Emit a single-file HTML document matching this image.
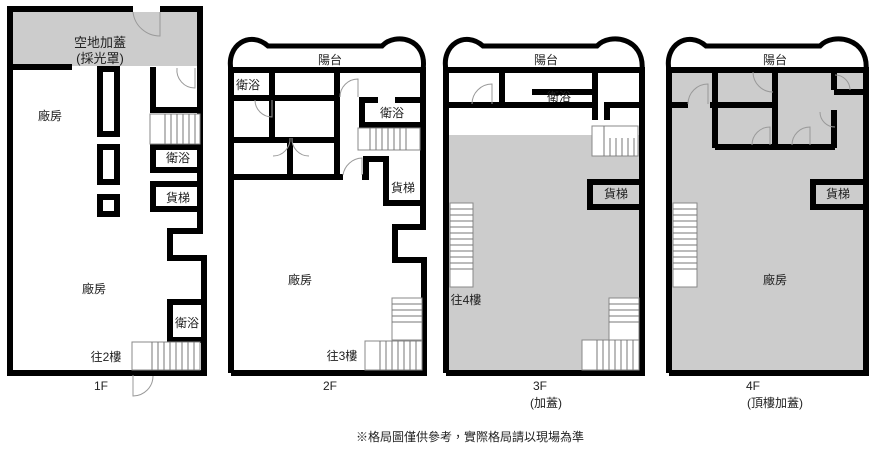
<!DOCTYPE html>
<html><head><meta charset="utf-8"><style>
html,body{margin:0;padding:0;background:#fff;width:888px;height:450px;overflow:hidden}
svg text{font-family:"Liberation Sans","Noto Sans CJK TC",sans-serif;font-size:12px;fill:#222}
</style></head><body>
<svg width="888" height="450" viewBox="0 0 888 450" xmlns="http://www.w3.org/2000/svg">
<g fill="none" stroke="#000" stroke-width="6" stroke-linejoin="miter">
<!-- 1F -->
<rect x="13" y="12" width="184" height="54" fill="#ccc" stroke="none"/>
<polyline points="133,9 10,9 10,373 204,373 204,258 170,258 170,231 200,231 200,9 160,9"/>
<line x1="10" y1="67" x2="72" y2="67"/>
<rect x="100" y="69" width="17" height="65"/>
<rect x="100" y="147" width="17" height="35"/>
<rect x="100" y="197" width="17" height="17"/>
<polyline points="153,67 153,110 200,110"/>
<rect x="153" y="147" width="47" height="23"/>
<rect x="153" y="184" width="47" height="25"/>
<polyline points="204,302 170,302 170,340 204,340"/>
<!-- 2F -->
<polyline points="231,373 231,70 423,70 423,227 395,227 395,260 424,260 424,373 231,373"/>
<path d="M231,70 C226,45 250,30 268,46 L382,46 C395,32 428,38 423,70" stroke-width="5"/>
<line x1="272" y1="70" x2="272" y2="140"/>
<line x1="234" y1="98" x2="336" y2="98"/>
<line x1="234" y1="140" x2="337" y2="140"/>
<line x1="290" y1="140" x2="290" y2="177"/>
<line x1="337" y1="70" x2="337" y2="177"/>
<polyline points="234,177 343,177"/>
<polyline points="362,177 366,177 366,159 386,159 386,203 423,203"/>
<polyline points="378,100 362,100 362,125 423,125"/>
<line x1="395" y1="100" x2="423" y2="100"/>
<!-- 3F -->
<rect x="449" y="135" width="190" height="235" fill="#ccc" stroke="none"/>
<polyline points="446,373 446,70 642,70 642,373 446,373"/>
<path d="M446,70 C441,45 465,30 483,46 L597,46 C610,32 645,38 642,70" stroke-width="5"/>
<line x1="447" y1="105" x2="595" y2="105"/>
<line x1="502" y1="72" x2="502" y2="105"/>
<line x1="595" y1="72" x2="595" y2="120"/>
<line x1="532" y1="92" x2="595" y2="92"/>
<polyline points="607,120 607,105 642,105"/>
<polyline points="642,182 590,182 590,207 642,207"/>
<!-- 4F -->
<rect x="672" y="72" width="193" height="298" fill="#ccc" stroke="none"/>
<polyline points="669,373 669,70 866,70 866,373 669,373"/>
<path d="M669,70 C664,45 688,30 706,46 L820,46 C833,32 869,38 866,70" stroke-width="5"/>
<line x1="715" y1="72" x2="715" y2="148"/>
<line x1="672" y1="105" x2="688" y2="105"/>
<line x1="710" y1="105" x2="775" y2="105"/>
<line x1="775" y1="72" x2="775" y2="148"/>
<line x1="715" y1="147" x2="835" y2="147"/>
<line x1="834" y1="72" x2="834" y2="90"/>
<line x1="834" y1="110" x2="834" y2="148"/>
<line x1="834" y1="92" x2="866" y2="92"/>
<polyline points="866,182 813,182 813,207 866,207"/>
</g>
<g fill="#fff" stroke="#888" stroke-width="1">
<rect x="150" y="114" width="50" height="30"/>
<rect x="132" y="342" width="68" height="28"/>
<rect x="358" y="128" width="62" height="22"/>
<rect x="392" y="298" width="30" height="42"/>
<rect x="365" y="341" width="57" height="29"/>
<rect x="450" y="203" width="23" height="84"/>
<rect x="592" y="126" width="46" height="30"/>
<rect x="609" y="298" width="30" height="42"/>
<rect x="582" y="340" width="57" height="30"/>
<rect x="673" y="203" width="24" height="84"/>
</g>
<g stroke="#777" stroke-width="1">
<path d="M165,114V144M171,114V144M177,114V144M183,114V144M189,114V144M195,114V144"/>
<path d="M152,342V370M158,342V370M164,342V370M170,342V370M176,342V370M182,342V370M188,342V370M194,342V370"/>
<path d="M370,128V150M376,128V150M382,128V150M388,128V150M394,128V150M400,128V150M406,128V150"/>
<path d="M392,304H422M392,310H422M392,316H422M392,322H422"/>
<path d="M380,341V370M386,341V370M392,341V370M398,341V370M404,341V370M410,341V370M416,341V370"/>
<path d="M450,209H473M450,215H473M450,221H473M450,227H473M450,233H473M450,239H473M450,245H473M450,251H473M450,257H473M450,263H473M450,269H473"/>
<path d="M610,138V156M616,138V156M622,138V156M628,138V156M634,138V156M604,126V156"/>
<path d="M609,304H639M609,310H639M609,316H639M609,322H639"/>
<path d="M597,340V370M603,340V370M609,340V370M615,340V370M621,340V370M627,340V370M633,340V370"/>
<path d="M673,209H697M673,215H697M673,221H697M673,227H697M673,233H697M673,239H697M673,245H697M673,251H697M673,257H697M673,263H697M673,269H697"/>
</g>
<g fill="none" stroke="#999" stroke-width="1">
<path d="M133,12 A27,27 0 0 0 160,36 V12"/>
<path d="M177,68 A18,18 0 0 0 195,88 V68"/>
<path d="M133,375 V396 A20,20 0 0 0 153,376"/>
<path d="M255,100 A17,17 0 0 0 272,117 V100"/>
<path d="M290,138 A17,17 0 0 1 273,156"/><path d="M292,138 A17,17 0 0 0 309,156"/>
<path d="M343,175 A20,20 0 0 1 362,158 V175"/>
<path d="M340,97 A18,18 0 0 1 358,79 V97"/>
<path d="M472,104 A20,20 0 0 1 492,84 V104"/>
<path d="M688,104 A20,20 0 0 1 708,84 V104"/>
<path d="M753,72 A20,20 0 0 0 773,92"/>
<path d="M752,145 A18,18 0 0 1 770,127 V145"/>
<path d="M792,145 A18,18 0 0 1 810,127 V145"/>
<path d="M835,75 A15,15 0 0 1 850,90"/>
<path d="M820,112 A15,15 0 0 0 835,127"/>
</g>
<g font-size="12">
<text x="100" y="47" text-anchor="middle" style="font-size:13px">空地加蓋</text>
<text x="100" y="63" text-anchor="middle" style="font-size:13px">(採光罩)</text>
<text x="50" y="120" text-anchor="middle">廠房</text>
<text x="94" y="293" text-anchor="middle">廠房</text>
<text x="178" y="162" text-anchor="middle">衛浴</text>
<text x="178" y="202" text-anchor="middle">貨梯</text>
<text x="187" y="327" text-anchor="middle">衛浴</text>
<text x="106" y="361" text-anchor="middle">往2樓</text>
<text x="101" y="390" text-anchor="middle">1F</text>
<text x="330" y="64" text-anchor="middle">陽台</text>
<text x="248" y="89" text-anchor="middle">衛浴</text>
<text x="392" y="117" text-anchor="middle">衛浴</text>
<text x="403" y="192" text-anchor="middle">貨梯</text>
<text x="300" y="284" text-anchor="middle">廠房</text>
<text x="342" y="360" text-anchor="middle">往3樓</text>
<text x="330" y="390" text-anchor="middle">2F</text>
<text x="546" y="64" text-anchor="middle">陽台</text>
<text x="559" y="101" text-anchor="middle">衛浴</text>
<text x="616" y="198" text-anchor="middle">貨梯</text>
<text x="466" y="304" text-anchor="middle">往4樓</text>
<text x="540" y="390" text-anchor="middle">3F</text>
<text x="546" y="407" text-anchor="middle">(加蓋)</text>
<text x="775" y="64" text-anchor="middle">陽台</text>
<text x="838" y="198" text-anchor="middle">貨梯</text>
<text x="775" y="284" text-anchor="middle">廠房</text>
<text x="753" y="390" text-anchor="middle">4F</text>
<text x="775" y="407" text-anchor="middle">(頂樓加蓋)</text>
<text x="470" y="441" text-anchor="middle">※格局圖僅供參考，實際格局請以現場為準</text>
</g>
</svg>
</body></html>
